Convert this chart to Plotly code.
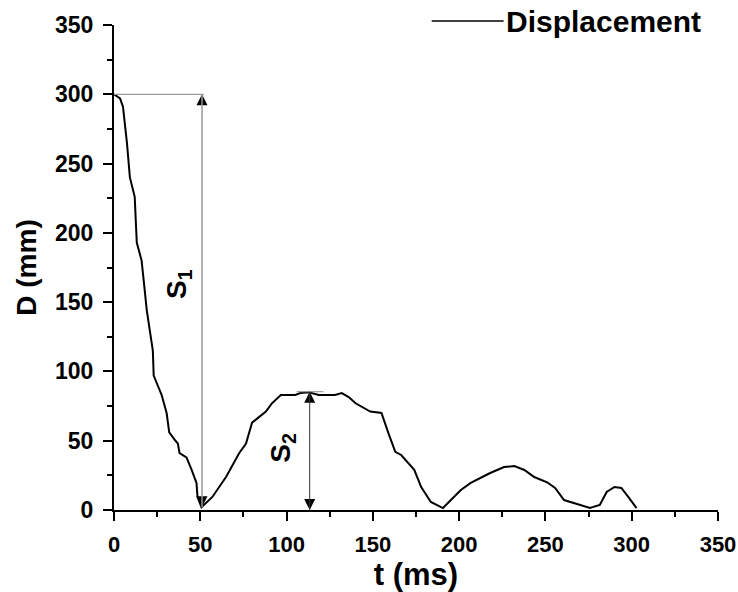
import plotly.graph_objects as go

# ---- data ----
t_ms = [0, 3.5, 5.2, 6.3, 6.5, 7.5, 9.2, 12, 13.2, 16, 17, 19, 20.7, 22.5, 23,
        27.6, 30.5, 32, 35, 37, 38, 42, 45, 47.8, 48.4, 50.7, 57, 65, 72.5,
        76.5, 80, 84, 88, 91.5, 96.7, 105, 108, 113, 118.6, 128, 132, 136,
        140, 148.5, 155, 159, 163, 166.4, 174, 178, 183.6, 190.6, 193.4, 201,
        206.7, 212.4, 218, 226, 232, 237.8, 243.5, 251, 255.6, 260.8, 266.5,
        274, 275.8, 281.5, 285.5, 290, 294, 298, 302.8]
disp_mm = [300, 297, 291, 280, 274, 265, 240, 226, 193, 180, 168, 144, 130, 115,
           97, 83, 70, 56, 51, 48, 41, 38, 29, 19.5, 9.4, 2, 9.4, 24, 41, 48,
           63, 67, 71, 77, 83, 83, 84.4, 85, 83, 83, 84.4, 81.5, 77, 71, 70,
           55.5, 42, 39.7, 29, 16.6, 5.8, 1.4, 5, 14.4, 19.5, 23, 26.7, 31,
           31.7, 28.9, 23.8, 20, 15.9, 7.2, 5, 2.2, 1.4, 3.6, 13, 16.6, 15.9,
           9.4, 1.4]
series_name = "Displacement"

# S1: fall from start height to first minimum
s1_t = 51
s1_top = 300
s1_bottom = 2
# S2: rebound height
s2_t = 113.4
s2_top = 85.4
s2_bottom = 0

FONT = "Arial, Liberation Sans, sans-serif"

fig = go.Figure()
fig.add_trace(go.Scatter(x=t_ms, y=disp_mm, mode="lines", name=series_name,
                         line=dict(color="black", width=2), showlegend=False))

# arrowheads (tips at the marker positions)
fig.add_trace(go.Scatter(
    x=[s1_t, s2_t], y=[s1_top, s2_top], mode="markers", showlegend=False,
    hoverinfo="skip", cliponaxis=False,
    marker=dict(symbol="arrow-up", size=11, color="black", line=dict(width=0))))
fig.add_trace(go.Scatter(
    x=[s1_t, s2_t], y=[s1_bottom, s2_bottom], mode="markers", showlegend=False,
    hoverinfo="skip", cliponaxis=False,
    marker=dict(symbol="arrow-down", size=11, color="black", line=dict(width=0))))

shapes = [
    # horizontal reference line at start height
    dict(type="line", xref="x", yref="y", x0=0, x1=s1_t + 1, y0=s1_top, y1=s1_top,
         line=dict(color="#9a9a9a", width=1.2)),
    # S1 vertical line
    dict(type="line", xref="x", yref="y", x0=s1_t, x1=s1_t, y0=s1_bottom, y1=s1_top,
         line=dict(color="#9a9a9a", width=1.5)),
    # S2 top marker
    dict(type="line", xref="x", yref="y", x0=s2_t - 7.5, x1=s2_t + 8, y0=s2_top, y1=s2_top,
         line=dict(color="#9a9a9a", width=1.2)),
    # S2 vertical line
    dict(type="line", xref="x", yref="y", x0=s2_t, x1=s2_t, y0=s2_bottom, y1=s2_top,
         line=dict(color="#333333", width=1)),
    # manual legend line
    dict(type="line", xref="paper", yref="paper", x0=0.526, x1=0.645, y0=1.008, y1=1.008,
         line=dict(color="black", width=1.5)),
]

annotations = [
    dict(x=37, y=163, xref="x", yref="y", text="S<sub>1</sub>", showarrow=False,
         textangle=-90, font=dict(family=FONT, size=28, color="black", weight=700)),
    dict(x=98, y=45, xref="x", yref="y", text="S<sub>2</sub>", showarrow=False,
         textangle=-90, font=dict(family=FONT, size=28, color="black", weight=700)),
    dict(x=0.645, y=1.008, xref="paper", yref="paper", text=series_name,
         showarrow=False, xanchor="left", yanchor="middle",
         font=dict(family=FONT, size=30, color="black", weight=700)),
]

def axis_style(tick_size):
    return dict(
        showline=True, linewidth=2, linecolor="black", mirror=False,
        ticks="outside", ticklen=9, tickwidth=2, tickcolor="black",
        showgrid=False, zeroline=False, automargin=False,
        tickfont=dict(family=FONT, size=tick_size, color="black", weight=700),
        minor=dict(ticks="outside", ticklen=5, tickwidth=1.5, tickcolor="black", dtick=25),
        range=[0, 350.001], dtick=50, tick0=0, ticklabelstandoff=5,
        ticklabeloverflow="allow",
    )

fig.update_layout(
    width=738, height=592,
    margin=dict(l=114, r=20, t=25, b=82),
    paper_bgcolor="white", plot_bgcolor="white",
    xaxis=dict(**axis_style(22),
               title=dict(text="t (ms)", standoff=20,
                          font=dict(family=FONT, size=31, color="black", weight=700))),
    yaxis=dict(**axis_style(23),
               title=dict(text="D (mm)", standoff=10,
                          font=dict(family=FONT, size=28, color="black", weight=700))),
    shapes=shapes,
    annotations=annotations,
    showlegend=False,
)

fig.write_html("out.html")
